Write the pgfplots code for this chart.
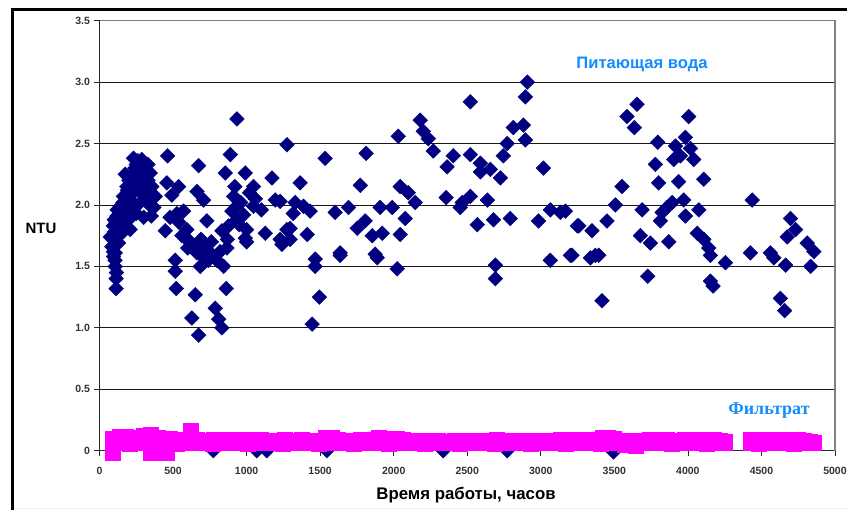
\documentclass[border=0pt]{standalone}
\usepackage{fontspec}
\setmainfont{Liberation Sans}
\newfontfamily\serifb{Liberation Serif}
\usepackage{pgfplots}
\pgfplotsset{compat=1.18}
\definecolor{navyb}{RGB}{0,0,128}
\definecolor{magb}{RGB}{255,0,255}
\definecolor{lblue}{RGB}{20,140,255}
\begin{document}
\begin{tikzpicture}[x=1pt,y=1pt]
\useasboundingbox (0,0) rectangle (847,510);
\fill[white] (0,0) rectangle (847,510);
\draw[black!6, line width=1pt] (12,1.5) -- (847,1.5);
\draw[line width=3pt] (12,0) -- (12,500) -- (847,500);
\begin{axis}[
  at={(99.5pt,59.3pt)}, anchor=south west,
  scale only axis, width=735.5pt, height=430pt,
  xmin=0, xmax=5000, ymin=0, ymax=3.5,
  clip=false,
  axis x line*=bottom, axis y line*=left,
  axis line style={black!85, line width=1pt, -},
  xtick={0,500,...,5000},
  xticklabels={0,500,1000,1500,2000,2500,3000,3500,4000,4500,5000},
  ytick={0,0.5,1,1.5,2,2.5,3,3.5},
  yticklabels={0,0.5,1.0,1.5,2.0,2.5,3.0,3.5},
  tick align=outside, major tick length=5pt,
  tick style={black!85, line width=0.8pt},
  ymajorgrids, grid style={black!90, line width=0.9pt},
  /pgf/number format/assume math mode=true,
  ticklabel style={font=\bfseries\fontsize{10.5}{12}\selectfont, text=black!80},
  xticklabel style={yshift=-8pt},
  yticklabel style={xshift=-1pt},
]
\addplot[only marks, mark=square*, mark size=5.2pt, mark options={rotate=45, fill=navyb, draw=navyb}] coordinates {
(113,1.32)(113,1.40)(107,1.50)(95,1.58)(84,1.66)(73,1.74)(95,1.83)(118,1.91)(141,1.99)(163,2.07)
(186,2.15)(175,2.25)(231,2.38)(288,2.37)(277,2.29)(254,2.21)(231,2.10)(220,1.99)(197,1.88)(209,1.80)
(152,1.77)(129,1.69)(107,1.61)(345,2.26)(356,2.15)(322,2.04)(299,2.10)(379,2.07)(277,2.02)(352,1.91)
(90,1.72)(100,1.78)(110,1.85)(120,1.75)(130,1.82)(140,1.90)(150,1.95)(160,2.02)(170,1.97)(180,2.05)
(190,2.12)(200,2.20)(210,2.08)(220,2.16)(230,2.25)(240,2.30)(250,2.33)(260,2.17)(270,2.24)(280,2.12)
(290,2.19)(300,2.28)(310,2.07)(320,2.14)(330,2.20)(340,2.00)(360,2.05)(370,1.98)(95,1.62)(105,1.55)
(115,1.45)(100,1.88)(120,1.96)(140,1.80)(160,1.86)(200,1.95)(240,2.00)(260,2.36)(330,2.33)(250,1.93)(300,1.90)
(463,2.40)(458,2.18)(492,2.08)(538,2.15)(447,1.79)(526,1.93)(571,1.95)(515,1.55)(515,1.46)(522,1.32)
(674,2.32)(663,2.11)(708,2.04)(730,1.87)(594,1.80)(617,1.69)(662,1.61)(685,1.50)(717,1.66)(753,1.61)
(798,1.55)(844,1.50)(651,1.27)(628,1.08)(674,0.94)(787,1.16)(810,1.07)(832,1.00)(862,1.32)(866,1.65)
(832,1.79)(878,1.83)(934,2.70)(889,2.41)(855,2.26)(912,2.07)(934,1.99)(934,1.88)(991,2.26)(991,1.73)
(480,1.90)(540,1.86)(560,1.75)(600,1.72)(640,1.66)(700,1.58)(720,1.63)(760,1.70)(780,1.58)(820,1.62)
(690,1.72)(740,1.55)(600,1.65)(900,1.95)(920,2.15)(950,1.84)(960,2.02)(1000,1.70)(980,1.92)(1020,2.10)
(1060,2.05)(1100,1.96)(870,1.72)(1000,1.80)
(1047,2.15)(1047,1.99)(1173,2.22)(1195,2.04)(1127,1.77)(1240,1.68)(1275,2.49)
(1534,2.38)(1813,2.42)(1364,2.18)(1773,2.16)(1228,2.03)(1330,2.02)(1387,1.99)(1432,1.95)(1317,1.93)(1602,1.94)
(1693,1.98)(1908,1.98)(1990,1.98)(2044,2.15)(2099,2.10)(2146,2.02)(2078,1.89)(2044,1.76)(1296,1.81)(1412,1.76)
(1752,1.81)(1806,1.87)(1854,1.75)(1922,1.77)(1636,1.61)(1874,1.60)(2031,2.56)(2180,2.69)(2201,2.60)(2235,2.54)
(2269,2.44)(2521,2.84)(2363,2.31)(2405,2.40)(2521,2.41)(2589,2.34)(2589,2.27)(2657,2.29)(2725,2.22)(2745,2.40)
(2772,2.50)(2813,2.63)(2881,2.65)(2895,2.53)(2895,2.88)(2908,3.00)(3017,2.30)(2357,2.06)(2452,1.98)(2521,2.07)
(2637,2.04)(2678,1.88)(2568,1.84)(2793,1.89)(2984,1.87)(3065,1.96)(3167,1.95)(3249,1.83)(2466,2.02)(1274,1.80)
(1296,1.72)(1228,1.72)(3133,1.94)
(1466,1.50)(1494,1.25)(1446,1.03)(1636,1.59)(1888,1.57)(2024,1.48)(2691,1.51)(2691,1.40)(3065,1.55)(3201,1.59)(1466,1.56)
(3258,1.83)(3348,1.79)(3450,1.87)(3507,2.00)(3552,2.15)(3654,2.82)(3586,2.72)(3636,2.63)(3795,2.51)(3779,2.33)
(3801,2.18)(4005,2.72)(3983,2.55)(3915,2.48)(4017,2.46)(3949,2.40)(4040,2.37)(3904,2.37)(3937,2.19)(4108,2.21)
(3972,2.04)(3893,2.02)(3859,1.98)(3825,1.94)(3689,1.96)(3813,1.87)(4074,1.96)(3983,1.91)(3677,1.75)(3745,1.69)
(3870,1.70)(4063,1.77)(4108,1.72)(4142,1.65)(4437,2.04)(4697,1.89)(4732,1.80)(4675,1.74)(4811,1.69)(4856,1.62)
(4425,1.61)(4561,1.61)(3371,1.59)
(3212,1.59)(3337,1.57)(3394,1.59)(3416,1.22)(3727,1.42)(4153,1.59)(4153,1.38)(4171,1.34)(4255,1.53)(4584,1.57)
(4664,1.51)(4629,1.24)(4657,1.14)(4834,1.50)
(774,0)(1069,0)(1137,0)(1546,0)(2337,0)(2772,0)(3494,-0.01)
};
\addplot[only marks, mark=square*, mark size=7.5pt, mark options={fill=magb, draw=magb, line width=0pt}] coordinates {
(92,0.095)(92,-0.016)(140,0.115)(180,0.11)(220,0.105)(260,0.1)(300,0.12)(347,0.13)(347,-0.016)(400,0.1)
(456,-0.016)(440,0.09)(480,0.095)(520,0.09)(560,0.085)(620,0.16)(660,0.085)(700,0.08)(740,0.075)(780,0.085)
(820,0.08)(860,0.085)(900,0.08)(940,0.085)(980,0.075)(1020,0.085)(1060,0.09)(1100,0.09)(1140,0.08)(1180,0.075)
(1220,0.08)(1260,0.085)(1300,0.075)(1340,0.08)(1380,0.085)(1420,0.08)(1460,0.075)(1500,0.08)(1540,0.1)(1580,0.1)
(1620,0.085)(1660,0.08)(1700,0.075)(1740,0.08)(1780,0.085)(1820,0.08)(1860,0.09)(1900,0.105)(1940,0.095)(1980,0.085)
(2020,0.095)(2060,0.09)(2100,0.08)(2140,0.075)(2180,0.07)(2220,0.075)(2260,0.07)(2300,0.075)(2340,0.07)(2380,0.07)
(2420,0.075)(2460,0.075)(2500,0.07)(2540,0.08)(2580,0.075)(2620,0.075)(2660,0.08)(2700,0.085)(2740,0.075)(2780,0.07)
(2820,0.075)(2860,0.07)(2900,0.075)(2940,0.08)(2980,0.075)(3020,0.07)(3060,0.075)(3100,0.08)(3140,0.085)(3180,0.085)
(3220,0.08)(3260,0.085)(3300,0.09)(3340,0.09)(3380,0.08)(3420,0.1)(3460,0.1)(3500,0.095)(3540,0.07)(3580,0.08)
(3620,0.075)(3660,0.06)(3700,0.075)(3740,0.09)(3780,0.09)(3820,0.09)(3860,0.085)(3900,0.08)(3940,0.08)(3980,0.085)
(4020,0.085)(4060,0.09)(4100,0.09)(4140,0.09)(4180,0.085)(4220,0.075)(4250,0.07)(4430,0.085)
(4470,0.085)(4510,0.085)(4550,0.08)(4590,0.085)(4630,0.09)(4670,0.09)(4710,0.09)(4750,0.085)(4790,0.075)(4830,0.07)(4860,0.065)
(130,0.06)(210,0.055)(290,0.06)(370,0.06)(530,0.055)(610,0.06)(690,0.06)(770,0.055)(850,0.06)(930,0.06)
(1010,0.055)(1090,0.06)(1170,0.06)(1250,0.055)(1330,0.06)(1410,0.06)(1490,0.055)(1570,0.06)(1650,0.06)(1730,0.055)
(1810,0.06)(1890,0.06)(1970,0.055)(2050,0.06)(2130,0.06)(2210,0.055)(2290,0.06)(2370,0.06)(2450,0.055)(2530,0.06)
(2610,0.06)(2690,0.055)(2770,0.06)(2850,0.06)(2930,0.055)(3010,0.06)(3090,0.06)(3170,0.055)(3250,0.06)(3330,0.06)
(3410,0.055)(3490,0.06)(3570,0.05)(3650,0.04)(3730,0.06)(3810,0.06)(3890,0.055)(3970,0.06)(4050,0.06)(4130,0.055)
(4210,0.06)(4250,0.06)(4430,0.06)(4480,0.055)(4560,0.06)(4640,0.06)(4720,0.055)(4800,0.06)(4860,0.06)
};
\draw[black!50, line width=1.6pt] (rel axis cs:0,1) -- (rel axis cs:1,1) -- (rel axis cs:1,0);
\end{axis}
\node[font=\bfseries\fontsize{15}{18}\selectfont, anchor=base] at (41,276) {NTU};
\node[font=\bfseries\fontsize{16.8}{20}\selectfont, anchor=base] at (466,10) {Время работы, часов};
\node[font=\bfseries\fontsize{16.6}{20}\selectfont, text=lblue, anchor=base] at (642,441) {Питающая вода};
\node[font=\serifb\bfseries\fontsize{18}{21}\selectfont, text=lblue, anchor=base] at (769,95) {Фильтрат};
\end{tikzpicture}
\end{document}
